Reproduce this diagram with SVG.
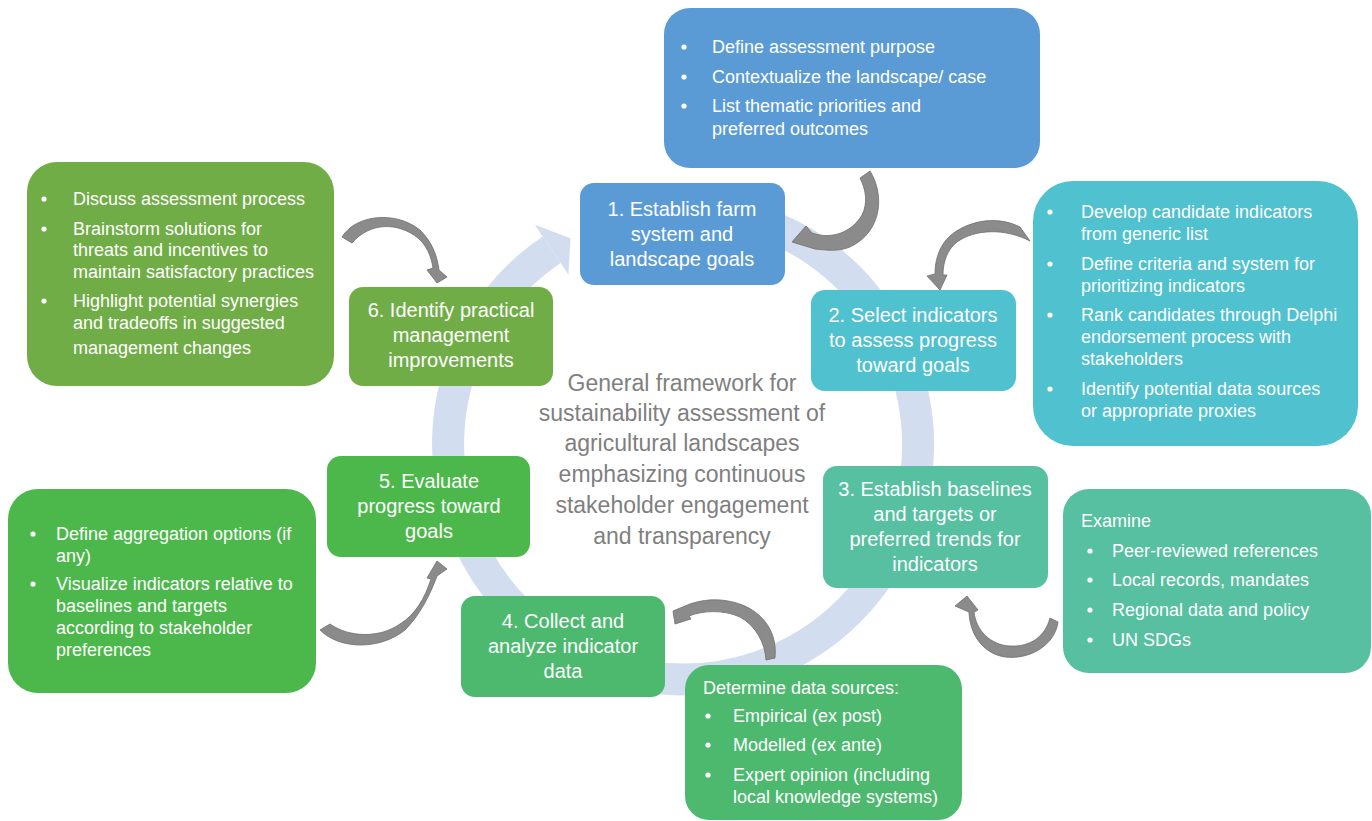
<svg xmlns="http://www.w3.org/2000/svg" width="1372" height="821" viewBox="0 0 1372 821">
<style>
.t{font-family:"Liberation Sans",Arial,sans-serif;fill:#fff}
.d{font-size:18px}
.h{font-size:20px;text-anchor:middle}
.c{font-family:"Liberation Sans",Arial,sans-serif;font-size:23px;fill:#7f7f7f;text-anchor:middle}
.b{fill:#fff}
.ar{fill:#8b8b8b;stroke:#6e6e6e;stroke-width:0.8;stroke-linejoin:round}
.blue{fill:#5b9bd5}.cyan{fill:#4fc1cf}.teal{fill:#56c0a0}.sea{fill:#4cb96f}.grn{fill:#4cb84b}.olive{fill:#71ad47}
</style>
<rect width="1372" height="821" fill="#fff"/>
<g id="cycle">
<path d="M662.5,210.4 A235,235 0 1 1 551.6,249.7" fill="none" stroke="#d2ddef" stroke-width="32"/>
<polygon points="534.8,224.8 570.5,238.2 568.4,274.6" fill="#d2ddef"/>
</g>
<g id="center-text">
<text class="c" x="682" y="391">General framework for</text>
<text class="c" x="682" y="421">sustainability assessment of</text>
<text class="c" x="682" y="451">agricultural landscapes</text>
<text class="c" x="682" y="482">emphasizing continuous</text>
<text class="c" x="682" y="513">stakeholder engagement</text>
<text class="c" x="682" y="544">and transparency</text>
</g>
<g id="detailA">
<rect class="blue" x="664" y="8" width="376" height="160" rx="26"/>
<circle class="b" cx="684" cy="47" r="2.6"/><circle class="b" cx="684" cy="77" r="2.6"/><circle class="b" cx="684" cy="106" r="2.6"/>
<text class="t d" x="712" y="53">Define assessment purpose</text>
<text class="t d" x="712" y="83">Contextualize the landscape/ case</text>
<text class="t d" x="712" y="112">List thematic priorities and</text>
<text class="t d" x="712" y="135">preferred outcomes</text>
</g>
<g id="step1">
<rect class="blue" x="580" y="183" width="205" height="102" rx="14"/>
<text class="t h" x="682" y="216">1. Establish farm</text>
<text class="t h" x="682" y="241">system and</text>
<text class="t h" x="682" y="266">landscape goals</text>
</g>
<g id="detailB">
<rect class="cyan" x="1033" y="181" width="325" height="265" rx="40"/>
<circle class="b" cx="1050" cy="212" r="2.6"/><circle class="b" cx="1050" cy="264" r="2.6"/><circle class="b" cx="1050" cy="315" r="2.6"/><circle class="b" cx="1050" cy="389" r="2.6"/>
<text class="t d" x="1081" y="218">Develop candidate indicators</text>
<text class="t d" x="1081" y="240">from generic list</text>
<text class="t d" x="1081" y="270">Define criteria and system for</text>
<text class="t d" x="1081" y="292">prioritizing indicators</text>
<text class="t d" x="1081" y="321">Rank candidates through Delphi</text>
<text class="t d" x="1081" y="343">endorsement process with</text>
<text class="t d" x="1081" y="365">stakeholders</text>
<text class="t d" x="1081" y="395">Identify potential data sources</text>
<text class="t d" x="1081" y="417">or appropriate proxies</text>
</g>
<g id="step2">
<rect class="cyan" x="811" y="290" width="205" height="101" rx="14"/>
<text class="t h" x="913" y="322">2. Select indicators</text>
<text class="t h" x="913" y="347">to assess progress</text>
<text class="t h" x="913" y="372">toward goals</text>
</g>
<g id="detailC">
<rect class="teal" x="1063" y="489" width="308" height="184" rx="26"/>
<text class="t d" x="1081" y="527">Examine</text>
<circle class="b" cx="1090" cy="551" r="2.6"/><circle class="b" cx="1090" cy="580" r="2.6"/><circle class="b" cx="1090" cy="610" r="2.6"/><circle class="b" cx="1090" cy="640" r="2.6"/>
<text class="t d" x="1112" y="557">Peer-reviewed references</text>
<text class="t d" x="1112" y="586">Local records, mandates</text>
<text class="t d" x="1112" y="616">Regional data and policy</text>
<text class="t d" x="1112" y="646">UN SDGs</text>
</g>
<g id="step3">
<rect class="teal" x="823" y="466" width="225" height="122" rx="14"/>
<text class="t h" x="935" y="496">3. Establish baselines</text>
<text class="t h" x="935" y="521">and targets or</text>
<text class="t h" x="935" y="546">preferred trends for</text>
<text class="t h" x="935" y="571">indicators</text>
</g>
<g id="detailD">
<rect class="sea" x="685" y="665" width="277" height="155" rx="24"/>
<text class="t d" x="703" y="694">Determine data sources:</text>
<circle class="b" cx="708" cy="716" r="2.6"/><circle class="b" cx="708" cy="745" r="2.6"/><circle class="b" cx="708" cy="775" r="2.6"/>
<text class="t d" x="733" y="722">Empirical (ex post)</text>
<text class="t d" x="733" y="751">Modelled (ex ante)</text>
<text class="t d" x="733" y="781">Expert opinion (including</text>
<text class="t d" x="733" y="803">local knowledge systems)</text>
</g>
<g id="step4">
<rect class="sea" x="461" y="596" width="204" height="101" rx="14"/>
<text class="t h" x="563" y="628">4. Collect and</text>
<text class="t h" x="563" y="653">analyze indicator</text>
<text class="t h" x="563" y="678">data</text>
</g>
<g id="detailE">
<rect class="grn" x="8" y="489" width="308" height="204" rx="30"/>
<circle class="b" cx="33" cy="534" r="2.6"/><circle class="b" cx="33" cy="584" r="2.6"/>
<text class="t d" x="56" y="540">Define aggregation options (if</text>
<text class="t d" x="56" y="562">any)</text>
<text class="t d" x="56" y="590">Visualize indicators relative to</text>
<text class="t d" x="56" y="612">baselines and targets</text>
<text class="t d" x="56" y="634">according to stakeholder</text>
<text class="t d" x="56" y="656">preferences</text>
</g>
<g id="step5">
<rect class="grn" x="327" y="456" width="203" height="101" rx="14"/>
<text class="t h" x="429" y="488">5. Evaluate</text>
<text class="t h" x="429" y="513">progress toward</text>
<text class="t h" x="429" y="538">goals</text>
</g>
<g id="detailF">
<rect class="olive" x="27" y="162" width="307" height="224" rx="30"/>
<circle class="b" cx="44" cy="199" r="2.6"/><circle class="b" cx="44" cy="229" r="2.6"/><circle class="b" cx="44" cy="301" r="2.6"/>
<text class="t d" x="73" y="205">Discuss assessment process</text>
<text class="t d" x="73" y="235">Brainstorm solutions for</text>
<text class="t d" x="73" y="256">threats and incentives to</text>
<text class="t d" x="73" y="278">maintain satisfactory practices</text>
<text class="t d" x="73" y="307">Highlight potential synergies</text>
<text class="t d" x="73" y="329">and tradeoffs in suggested</text>
<text class="t d" x="73" y="354">management changes</text>
</g>
<g id="step6">
<rect class="olive" x="349" y="287" width="204" height="99" rx="14"/>
<text class="t h" x="451" y="317">6. Identify practical</text>
<text class="t h" x="451" y="342">management</text>
<text class="t h" x="451" y="367">improvements</text>
</g>
<g id="connectors">
<path class="ar" d="M860,178 L870,171 C885,195 882,232 850,247 C838,252 826,250 815,249 L792,242 L806,226 L812,233 C832,240 852,232 862,215 C868,203 866,190 860,178 Z"/>
<path class="ar" d="M1030,241 L1020,227 C995,214 962,222 946,240 C938,250 935,262 935,274 L927,276 L940,290 L947,275 L943,275 C943,262 947,250 957,242 C975,229 1005,228 1030,241 Z"/>
<path class="ar" d="M1058,622 L1050,618 C1045,637 1030,647 1010,646 C990,645 976,630 974,612 L978,610 L967,596 L955,606 L969,612 C970,637 985,654 1005,657 C1030,660 1055,645 1058,622 Z"/>
<path class="ar" d="M775,658 C778,628 758,606 728,601 C712,598 696,601 685,606 L673,611 L675,624 L691,619 L689,616 C702,611 722,609 740,617 C756,626 765,643 766,660 Z"/>
<path class="ar" d="M320,630 C340,650 380,650 405,630 C420,615 430,595 437,576 L447,569 L437,561 L427,578 L431,579 C425,598 415,615 400,624 C380,638 350,638 330,624 Z"/>
<path class="ar" d="M342,237 C355,215 395,210 420,230 C432,242 437,255 439,270 L447,277 L437,283 L427,270 L433,268 C431,255 426,245 418,238 C398,222 370,222 352,243 Z"/>
</g>
</svg>
